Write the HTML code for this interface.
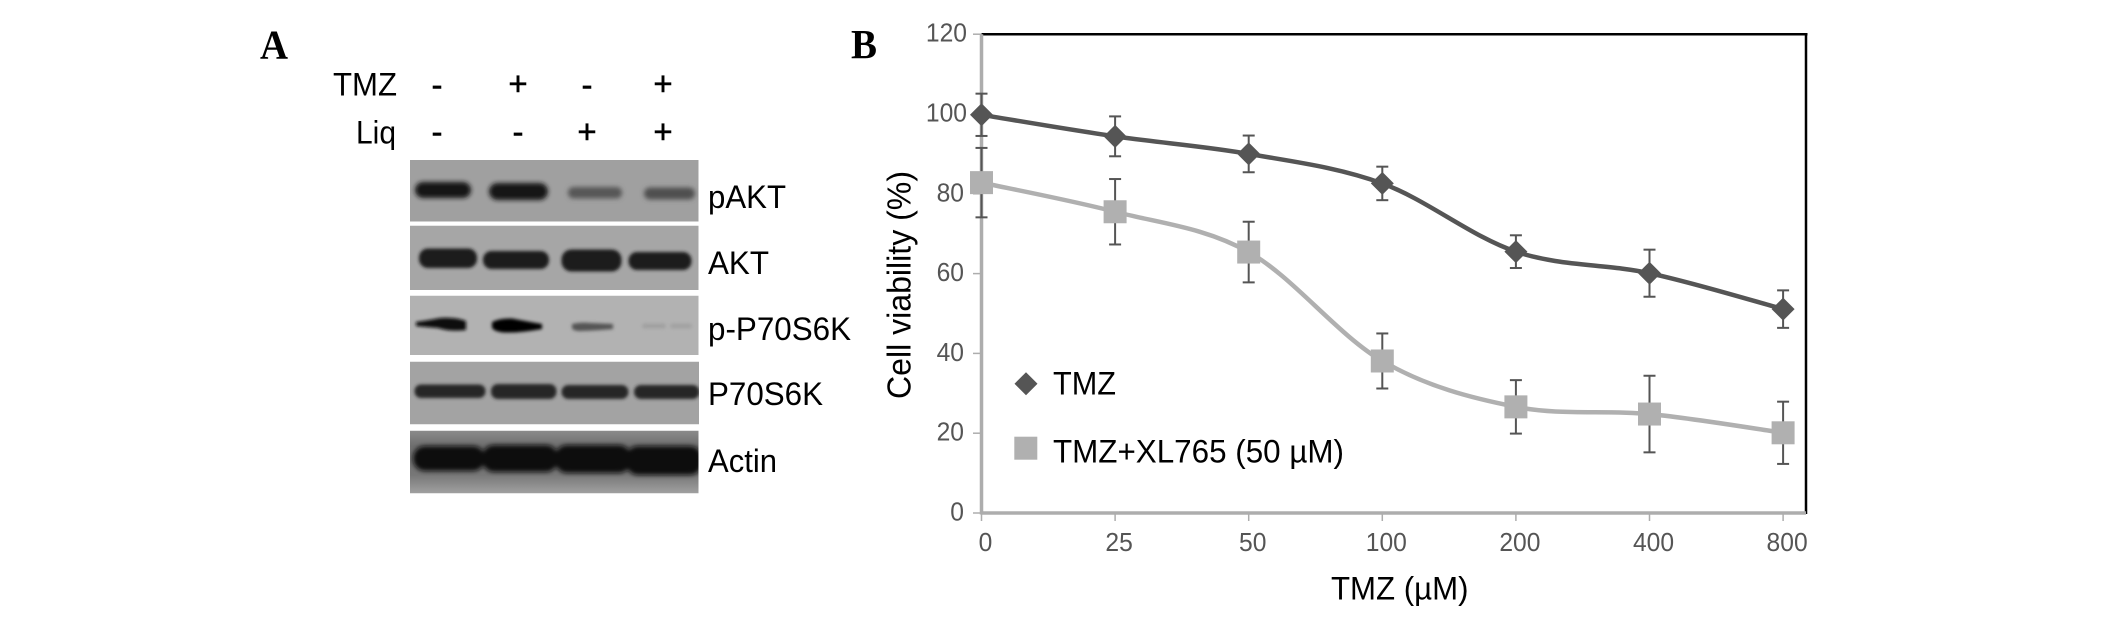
<!DOCTYPE html>
<html lang="en">
<head>
<meta charset="utf-8">
<title>Western blot and cell viability figure</title>
<style>
html,body{margin:0;padding:0;background:#fff;}
#figure{display:block;width:2126px;height:617px;font-family:"Liberation Sans",sans-serif;}
</style>
</head>
<body>
<svg id="figure" xmlns="http://www.w3.org/2000/svg" width="2126" height="617" viewBox="0 0 2126 617">
  <defs>
    <filter id="b2" x="-20%" y="-60%" width="140%" height="220%"><feGaussianBlur stdDeviation="2.4"/></filter>
    <filter id="b1" x="-20%" y="-60%" width="140%" height="220%"><feGaussianBlur stdDeviation="1.5"/></filter>
    <linearGradient id="actin-bg" x1="0" y1="0" x2="0" y2="1">
      <stop offset="0" stop-color="#8c8c8c"/>
      <stop offset="0.25" stop-color="#6e6e6e"/>
      <stop offset="0.7" stop-color="#777"/>
      <stop offset="1" stop-color="#a2a2a2"/>
    </linearGradient>
  </defs>

  <g>
    <text x="260" y="58.5" font-family="'Liberation Serif',serif" font-weight="bold" font-size="41" textLength="28" lengthAdjust="spacingAndGlyphs">A</text>
    <text x="333" y="95.3" font-size="32" textLength="64" lengthAdjust="spacingAndGlyphs">TMZ</text>
    <text x="356" y="143.3" font-size="32" textLength="40" lengthAdjust="spacingAndGlyphs">Liq</text>

    <g font-size="33" text-anchor="middle" stroke="#000" stroke-width="0.5">
      <text x="437" y="96">-</text>
      <text x="518" y="95.2">+</text>
      <text x="587" y="96">-</text>
      <text x="663" y="95.2">+</text>
      <text x="437" y="143">-</text>
      <text x="518" y="143">-</text>
      <text x="587" y="143.2">+</text>
      <text x="663" y="143.2">+</text>
    </g>

    <svg x="410" y="160" width="288.5" height="61.5" viewBox="410 160 288.5 61.5">
      <rect x="410" y="160" width="289" height="62" fill="#a0a0a0"/>
      <g filter="url(#b2)">
        <rect x="415" y="182" width="56" height="16" rx="8" fill="#161616"/>
        <rect x="489" y="183" width="59" height="17" rx="8.5" fill="#161616"/>
        <rect x="568" y="187" width="54" height="11.5" rx="5.5" fill="#575757"/>
        <rect x="644" y="187.5" width="51" height="12" rx="6" fill="#505050"/>
      </g>
    </svg>

    <svg x="410" y="225.7" width="288.5" height="64.3" viewBox="410 225.7 288.5 64.3">
      <rect x="410" y="225" width="289" height="66" fill="#a6a6a6"/>
      <g filter="url(#b1)">
        <rect x="419" y="248.5" width="58" height="19.5" rx="9" fill="#1c1c1c"/>
        <rect x="483" y="251" width="66" height="18" rx="8.5" fill="#1c1c1c"/>
        <rect x="561.5" y="249.5" width="60" height="22" rx="10" fill="#1c1c1c"/>
        <rect x="628.5" y="252" width="63" height="18" rx="8.5" fill="#1c1c1c"/>
      </g>
    </svg>

    <svg x="410" y="295.7" width="288.5" height="59.3" viewBox="410 295.7 288.5 59.3">
      <rect x="410" y="295" width="289" height="61" fill="#b2b2b2"/>
      <g filter="url(#b1)">
        <path d="M416 322 Q430 320 440 318 Q455 317 466 321 L466 330 Q450 332 438 328 Q425 327 416 326Z" fill="#0c0c0c"/>
        <path d="M492 322 Q500 318 512 318.5 Q530 322 542 324 L542 329 Q520 333 505 332.5 Q495 332 492 328Z" fill="#060606"/>
        <path d="M572 324 Q580 322 590 323 L613 324 L613 329 Q590 331 578 331 Q572 330 572 328Z" fill="#555"/>
        <rect x="642" y="323.5" width="24" height="5" rx="2.5" fill="#a0a0a0"/>
        <rect x="670" y="323.5" width="22" height="5" rx="2.5" fill="#a2a2a2"/>
      </g>
    </svg>

    <svg x="410" y="361.7" width="289" height="62.6" viewBox="410 361.7 289 62.6">
      <rect x="410" y="361" width="289" height="64" fill="#a3a3a3"/>
      <g filter="url(#b1)">
        <rect x="414.5" y="384.5" width="71" height="13.5" rx="6.5" fill="#262626"/>
        <rect x="491" y="384" width="65.5" height="15" rx="7" fill="#262626"/>
        <rect x="561.5" y="385" width="67" height="14" rx="7" fill="#262626"/>
        <rect x="634" y="385" width="65.5" height="14" rx="7" fill="#262626"/>
      </g>
    </svg>

    <svg x="410" y="430.7" width="288.5" height="62.6" viewBox="410 430.7 288.5 62.6">
      <rect x="410" y="430" width="289" height="64" fill="url(#actin-bg)"/>
      <g filter="url(#b2)">
        <rect x="413" y="446" width="72" height="25" rx="12" fill="#111"/>
        <rect x="482" y="445" width="76" height="27" rx="12" fill="#111"/>
        <rect x="555" y="445" width="76" height="28" rx="12" fill="#111"/>
        <rect x="626" y="446" width="76" height="29" rx="12" fill="#111"/>
      </g>
    </svg>

    <g font-size="32">
      <text x="708" y="208" textLength="78" lengthAdjust="spacingAndGlyphs">pAKT</text>
      <text x="708" y="274" textLength="61" lengthAdjust="spacingAndGlyphs">AKT</text>
      <text x="708" y="340" textLength="143" lengthAdjust="spacingAndGlyphs">p-P70S6K</text>
      <text x="708" y="405" textLength="115" lengthAdjust="spacingAndGlyphs">P70S6K</text>
      <text x="708" y="472" textLength="69" lengthAdjust="spacingAndGlyphs">Actin</text>
    </g>
  </g>

  <g id="panel-b">
    <text x="851" y="58" font-family="'Liberation Serif',serif" font-weight="bold" font-size="41" textLength="26" lengthAdjust="spacingAndGlyphs">B</text>
    <text transform="translate(910.5 399) rotate(-90)" font-size="33" textLength="228" lengthAdjust="spacingAndGlyphs">Cell viability (%)</text>
    <text x="1331" y="599.3" font-size="32" textLength="137.5" lengthAdjust="spacingAndGlyphs">TMZ (µM)</text>
    <g id="chart"></g>
    <g>
      <g>
        <path d="M1026 372.2 L1037.5 383.7 L1026 395.2 L1014.5 383.7Z" fill="#555"/>
        <text x="1053" y="394.7" font-size="32" textLength="63" lengthAdjust="spacingAndGlyphs">TMZ</text>
      </g>
      <g>
        <rect x="1014.3" y="436.7" width="23" height="23" fill="#b0b0b0"/>
        <text x="1053" y="462.7" font-size="32" textLength="291" lengthAdjust="spacingAndGlyphs">TMZ+XL765 (50 µM)</text>
      </g>
    </g>
  </g>
</svg>
<script>
const categories = ['0', '25', '50', '100', '200', '400', '800'];
const yTicks = [0, 20, 40, 60, 80, 100, 120];
const tmzValues = [99.8, 94.4, 90, 82.6, 65.5, 60.1, 51.1];
const tmzErrors = [5.3, 5, 4.6, 4.2, 4.1, 5.9, 4.7];
const xl765Values = [82.8, 75.5, 65.4, 38.1, 26.6, 24.8, 20.1];
const xl765Errors = [8.7, 8.2, 7.6, 6.9, 6.7, 9.6, 7.8];

const NS = 'http://www.w3.org/2000/svg';
const chart = document.getElementById('chart');
function xScale(i) { return 981.5 + i * 133.6; }
function yScale(v) { return 513 - v * 3.99; }
function make(tag, parent, props) {
  const el = document.createElementNS(NS, tag);
  for (const k in props) el.setAttribute(k, props[k]);
  parent.appendChild(el);
  return el;
}
function smoothPath(values) {
  const p = values.map((v, i) => [xScale(i), yScale(v)]);
  let d = 'M' + p[0][0] + ' ' + p[0][1];
  for (let i = 0; i < p.length - 1; i++) {
    const a = p[Math.max(i - 1, 0)], b = p[i], c = p[i + 1], e = p[Math.min(i + 2, p.length - 1)];
    d += ' C' + (b[0] + (c[0] - a[0]) / 6) + ' ' + (b[1] + (c[1] - a[1]) / 6) +
         ' ' + (c[0] - (e[0] - b[0]) / 6) + ' ' + (c[1] - (e[1] - b[1]) / 6) +
         ' ' + c[0] + ' ' + c[1];
  }
  return d;
}

const axisGray = '#adadad';
const plotRight = 1806;
const digitWidth = 13.7;

yTicks.forEach(function (t) {
  const tick = make('line', chart, { x1: 973, x2: 981, y1: yScale(t), y2: yScale(t), stroke: axisGray, 'stroke-width': 1.5 });
  
  
  const text = String(t);
  const label = make('text', chart, { x: text.length === 3 ? 967 : 964, y: yScale(t) + 7.5, 'text-anchor': 'end', 'font-size': 26, fill: '#555', textLength: text.length * digitWidth, lengthAdjust: 'spacingAndGlyphs' });
  label.textContent = text;
  
  
});

categories.forEach(function (c, i) {
  const tick = make('line', chart, { x1: xScale(i), x2: xScale(i), y1: yScale(0), y2: yScale(0) + 8, stroke: axisGray, 'stroke-width': 1.5 });
  
  
  const label = make('text', chart, { x: xScale(i) + 4, y: 551, 'text-anchor': 'middle', 'font-size': 26, fill: '#555', textLength: c.length * digitWidth, lengthAdjust: 'spacingAndGlyphs' });
  label.textContent = c;
  
  
});

const topBorder = make('line', chart, { x1: xScale(0), x2: plotRight + 1.5, y1: yScale(120), y2: yScale(120), stroke: '#000', 'stroke-width': 2.5 });


const rightBorder = make('line', chart, { x1: plotRight, x2: plotRight, y1: yScale(120), y2: yScale(0) + 1, stroke: '#000', 'stroke-width': 2.5 });


const yAxis = make('line', chart, { x1: xScale(0), x2: xScale(0), y1: yScale(120), y2: yScale(0) + 1.5, stroke: axisGray, 'stroke-width': 3.5 });


const xAxis = make('line', chart, { x1: xScale(0), x2: plotRight, y1: yScale(0), y2: yScale(0), stroke: axisGray, 'stroke-width': 3.5 });



function drawErrors(values, errors, seriesName) {
  values.forEach(function (v, i) {
    const g = make('g', chart, { stroke: '#555', 'stroke-width': 2, fill: 'none' });
    
    
    const x = xScale(i), hi = yScale(v + errors[i]), lo = yScale(v - errors[i]);
    make('line', g, { x1: x, x2: x, y1: hi, y2: lo });
    make('line', g, { x1: x - 6, x2: x + 6, y1: hi, y2: hi });
    make('line', g, { x1: x - 6, x2: x + 6, y1: lo, y2: lo });
  });
}

drawErrors(tmzValues, tmzErrors, 'tmz');
drawErrors(xl765Values, xl765Errors, 'xl765');

const tmzLine = make('path', chart, { d: smoothPath(tmzValues), fill: 'none', stroke: '#555', 'stroke-width': 4.5 });


const xl765Line = make('path', chart, { d: smoothPath(xl765Values), fill: 'none', stroke: '#b0b0b0', 'stroke-width': 4.5 });



tmzValues.forEach(function (v, i) {
  const x = xScale(i), y = yScale(v), r = 11.5;
  const m = make('path', chart, { d: 'M' + x + ' ' + (y - r) + ' L' + (x + r) + ' ' + y + ' L' + x + ' ' + (y + r) + ' L' + (x - r) + ' ' + y + 'Z', fill: '#555' });
  
  
});
xl765Values.forEach(function (v, i) {
  const s = 23;
  const m = make('rect', chart, { x: xScale(i) - s / 2, y: yScale(v) - s / 2, width: s, height: s, fill: '#b0b0b0' });
  
  
});
</script>
</body>
</html>
